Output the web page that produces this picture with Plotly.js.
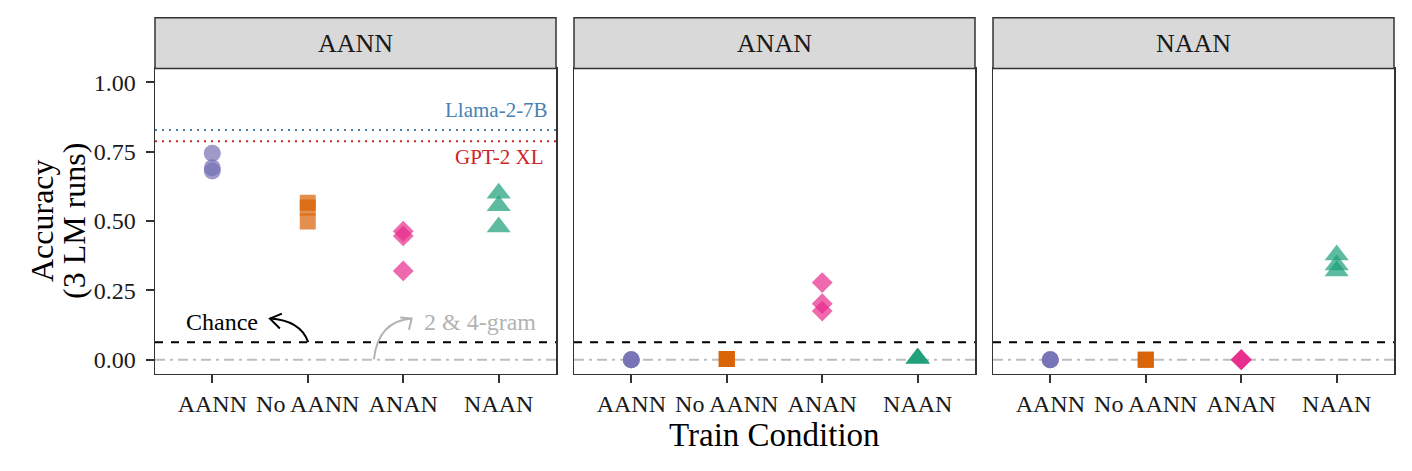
<!DOCTYPE html>
<html>
<head>
<meta charset="utf-8">
<script src="https://cdn.plot.ly/plotly-3.0.1.min.js"></script>
<style>html,body{margin:0;padding:0;background:#fff;}#chart{width:1412px;height:471px;}</style>
</head>
<body>
<div id="chart"></div>
<script>
// ---- data ----
const trainConditions = ['AANN', 'No AANN', 'ANAN', 'NAAN'];
const testPanels = ['AANN', 'ANAN', 'NAAN'];
// accuracy of 3 LM runs, per train condition (order as trainConditions)
const panelAANN = [[0.744, 0.692, 0.680], [0.566, 0.549, 0.498], [0.463, 0.446, 0.320], [0.600, 0.555, 0.478]];
const panelANAN = [[0.000, 0.000, 0.000], [0.002, 0.002, 0.002], [0.278, 0.202, 0.175], [0.005, 0.005, 0.005]];
const panelNAAN = [[0.000, 0.000, 0.000], [0.000, 0.000, 0.000], [0.000, 0.000, 0.000], [0.377, 0.341, 0.320]];
const chanceLevel = 0.0625;
const ngramLevel = 0.0;
const llamaLevel = 0.828;
const gpt2Level = 0.788;
const yTicks = [0, 0.25, 0.5, 0.75, 1.0];
const yTitleLines = ['Accuracy', '(3 LM runs)'];

// ---- styles ----
const colors = ['#7570B3', '#D95F02', '#E7298A', '#1B9E77'];
const symbols = ['circle', 'square', 'diamond', 'triangle-up'];
const sizes = [17, 16, 16, 21];
const FONT = '"Liberation Serif", "Times New Roman", serif';
const W = 1412, H = 471;
const panelPx = [[155, 556], [574, 975], [993, 1394]];
const plotTop = 68.5, plotBottom = 373.5, stripTop = 17.7;

const allPanels = [panelAANN, panelANAN, panelNAAN];
const traces = [];
allPanels.forEach((panel, p) => {
  const ax = p === 0 ? '' : String(p + 1);
  panel.forEach((vals, c) => {
    traces.push({
      type: 'scatter', mode: 'markers',
      x: vals.map(() => c), y: vals,
      xaxis: 'x' + ax, yaxis: 'y' + ax,
      marker: {symbol: symbols[c], size: sizes[c], color: colors[c], opacity: 0.7, line: {width: 0}},
      showlegend: false, hoverinfo: 'skip'
    });
  });
});

const layout = {
  width: W, height: H,
  margin: {l: 0, r: 0, t: 0, b: 0},
  paper_bgcolor: '#fff', plot_bgcolor: '#fff',
  font: {family: FONT, color: '#1a1a1a'},
  showlegend: false,
  shapes: [], annotations: []
};

panelPx.forEach((px, p) => {
  const ax = p === 0 ? '' : String(p + 1);
  const dom = [px[0] / W, px[1] / W];
  layout['xaxis' + ax] = {
    domain: dom, range: [-0.6, 3.6], anchor: 'y' + ax,
    tickvals: trainConditions.map((_, i) => i), ticktext: trainConditions,
    ticks: 'outside', ticklen: 8, tickwidth: 2, tickcolor: '#333',
    tickfont: {size: 24, family: FONT, color: '#1a1a1a'},
    showline: true, mirror: true, linecolor: '#333', linewidth: 1.5,
    showgrid: false, zeroline: false, fixedrange: true
  };
  layout['yaxis' + ax] = {
    domain: [1 - plotBottom / H, 1 - plotTop / H], range: [-0.05, 1.05], anchor: 'x' + ax,
    tickvals: yTicks, ticktext: yTicks.map(v => v.toFixed(2)),
    ticks: p === 0 ? 'outside' : '', ticklen: 8, tickwidth: 2, tickcolor: '#333',
    showticklabels: p === 0, ticklabelstandoff: 5,
    tickfont: {size: 24, family: FONT, color: '#1a1a1a'},
    showline: true, mirror: true, linecolor: '#333', linewidth: 1.5,
    showgrid: false, zeroline: false, fixedrange: true
  };
  // strip
  layout.shapes.push({
    type: 'rect', xref: 'paper', yref: 'paper',
    x0: dom[0], x1: dom[1], y0: 1 - plotTop / H, y1: 1 - stripTop / H,
    fillcolor: '#D9D9D9', line: {color: '#333', width: 1.5}, layer: 'above'
  });
  layout.annotations.push({
    xref: 'paper', yref: 'paper', x: (dom[0] + dom[1]) / 2, y: 1 - (plotTop + stripTop) / 2 / H,
    text: testPanels[p], showarrow: false, font: {size: 26, family: FONT, color: '#1a1a1a'},
    xanchor: 'center', yanchor: 'middle'
  });
  // reference lines
  layout.shapes.push({
    type: 'line', xref: 'x' + ax + ' domain', yref: 'y' + ax, x0: 0, x1: 1, y0: ngramLevel, y1: ngramLevel,
    line: {color: '#BEBEBE', width: 2, dash: '10px,5px,3px,5px'}, layer: 'below'
  });
  layout.shapes.push({
    type: 'line', xref: 'x' + ax + ' domain', yref: 'y' + ax, x0: 0, x1: 1, y0: chanceLevel, y1: chanceLevel,
    line: {color: '#000', width: 2, dash: '8px,8px'}, layer: 'below'
  });
});

// model reference lines (first panel only)
layout.shapes.push({
  type: 'line', xref: 'x domain', yref: 'y', x0: 0, x1: 1, y0: llamaLevel, y1: llamaLevel,
  line: {color: '#4682B4', width: 2, dash: '2px,5px'}, layer: 'below'
});
layout.shapes.push({
  type: 'line', xref: 'x domain', yref: 'y', x0: 0, x1: 1, y0: gpt2Level, y1: gpt2Level,
  line: {color: '#CD2626', width: 2, dash: '2px,5px'}, layer: 'below'
});
layout.annotations.push({
  xref: 'x domain', yref: 'y', x: 0.985, y: 0.899, text: 'Llama-2-7B', showarrow: false,
  xanchor: 'right', yanchor: 'middle', font: {size: 21, family: FONT, color: '#4682B4'}
});
layout.annotations.push({
  xref: 'x domain', yref: 'y', x: 0.972, y: 0.731, text: 'GPT-2 XL', showarrow: false,
  xanchor: 'right', yanchor: 'middle', font: {size: 21, family: FONT, color: '#CD2626'}
});
layout.annotations.push({
  xref: 'x', yref: 'y', x: 0.098, y: 0.136, text: 'Chance', showarrow: false,
  xanchor: 'center', yanchor: 'middle', font: {size: 24, family: FONT, color: '#000'}
});
layout.annotations.push({
  xref: 'x', yref: 'y', x: 2.803, y: 0.136, text: '2 &amp; 4-gram', showarrow: false,
  xanchor: 'center', yanchor: 'middle', font: {size: 24, family: FONT, color: '#B3B3B3'}
});
// curved arrows
layout.shapes.push({
  type: 'path', xref: 'x', yref: 'y',
  path: 'M 1.005 0.0635 Q 0.918 0.142 0.604 0.148',
  line: {color: '#000', width: 2}, layer: 'above'
});
layout.shapes.push({
  type: 'path', xref: 'x', yref: 'y',
  path: 'M 0.729 0.166 L 0.604 0.148 L 0.708 0.112',
  line: {color: '#000', width: 2}, layer: 'above'
});
layout.shapes.push({
  type: 'path', xref: 'x', yref: 'y',
  path: 'M 1.693 0.001 Q 1.735 0.138 2.088 0.148',
  line: {color: '#B3B3B3', width: 2}, layer: 'above'
});
layout.shapes.push({
  type: 'path', xref: 'x', yref: 'y',
  path: 'M 1.968 0.152 L 2.088 0.148 L 2.060 0.108',
  line: {color: '#B3B3B3', width: 2}, layer: 'above'
});

// axis titles
layout.annotations.push({
  xref: 'paper', yref: 'paper', x: (155 + 1394) / 2 / W, y: 1 - 435 / H,
  text: 'Train Condition', showarrow: false, xanchor: 'center', yanchor: 'middle',
  font: {size: 33, family: FONT, color: '#000'}
});
[42, 74].forEach((xPx, i) => {
  layout.annotations.push({
    xref: 'paper', yref: 'paper', x: xPx / W, y: 1 - 221 / H,
    text: yTitleLines[i], showarrow: false, xanchor: 'center', yanchor: 'middle',
    textangle: -90, font: {size: 32, family: FONT, color: '#000'}
  });
});

Plotly.newPlot('chart', traces, layout, {staticPlot: true, displayModeBar: false});
</script>
</body>
</html>
